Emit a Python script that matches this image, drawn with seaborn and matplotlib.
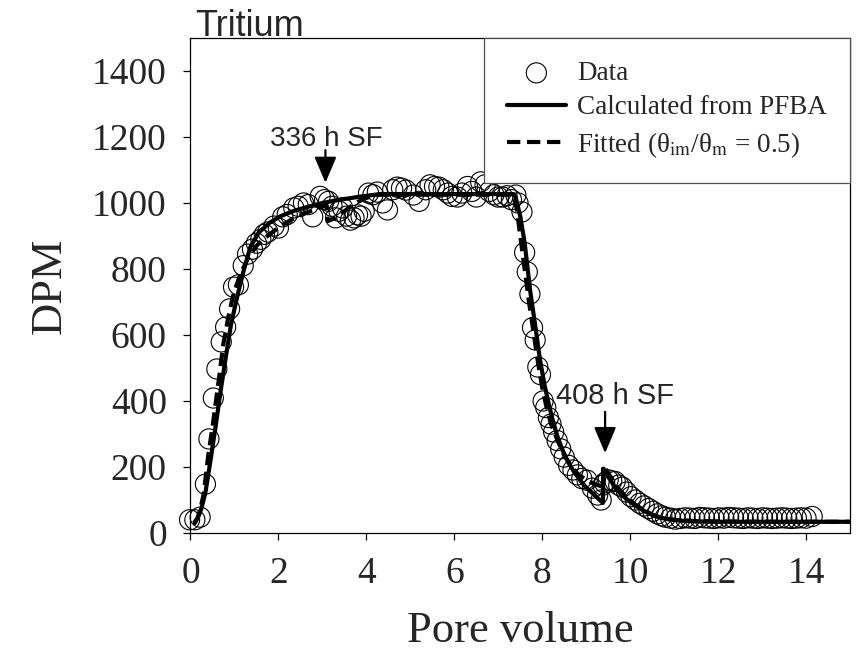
import matplotlib
matplotlib.use("Agg")
import matplotlib.pyplot as plt
import seaborn as sns
import pandas as pd

# ---------------- data ----------------
data_x = [-0.02, 0.1, 0.22, 0.34, 0.42, 0.52, 0.6, 0.7, 0.8, 0.89, 0.98, 1.09, 1.2, 1.3, 1.41,
          1.5, 1.6, 1.68, 1.76, 1.9, 2.0, 2.1, 2.2, 2.35, 2.45, 2.57, 2.68, 2.78, 2.95, 3.05,
          3.14, 3.22, 3.3, 3.38, 3.46, 3.55, 3.64, 3.72, 3.8, 3.88, 3.95, 4.05, 4.15, 4.25,
          4.37, 4.48, 4.6, 4.7, 4.8, 4.9, 5.07, 5.2, 5.35, 5.45, 5.55, 5.65, 5.75, 5.85, 5.95,
          6.07, 6.17, 6.3, 6.4, 6.5, 6.6, 6.7, 6.8, 6.9, 7.0, 7.1, 7.2, 7.3, 7.4,
          7.45, 7.54, 7.6, 7.66, 7.72, 7.78, 7.84, 7.9, 7.96, 8.02, 8.08, 8.14, 8.2, 8.26,
          8.34, 8.42, 8.5, 8.6, 8.7, 8.8, 8.9, 9.02, 9.14, 9.26, 9.34, 9.38, 9.42, 9.5, 9.58,
          9.66, 9.74, 9.82, 9.92, 10.02, 10.12, 10.22, 10.32, 10.42, 10.52, 10.62, 10.72,
          10.8, 10.92, 11.03, 11.14, 11.25, 11.36, 11.47, 11.58, 11.69, 11.8, 11.91, 12.02,
          12.13, 12.24, 12.35, 12.46, 12.57, 12.68, 12.79, 12.9, 13.01, 13.12, 13.23, 13.34,
          13.45, 13.56, 13.67, 13.78, 13.89, 14.0, 14.14]
data_y = [40, 40, 48, 148, 285, 409, 497, 579, 624, 679, 745, 752, 810, 845, 860,
          878, 890, 905, 912, 930, 924, 958, 965, 985, 990, 1000, 995, 958, 1020, 1010,
          1005, 990, 955, 975, 985, 960, 948, 955, 964, 960, 975, 1030, 1025, 1033,
          1000, 979, 1040, 1048, 1045, 1039, 1024, 1005, 1040, 1055, 1050, 1048, 1040, 1030, 1020,
          1018, 1030, 1050, 1035, 1018, 1064, 1055, 1035, 1025, 1018, 1018, 1022, 1010, 1024,
          1000, 973, 850, 791, 724, 622, 585, 503, 480, 400, 380, 350, 330, 306,
          280, 255, 230, 205, 191, 176, 165, 160, 136, 115, 100, 145, 152, 161, 158,
          156, 145, 139, 124, 110, 100, 90, 82, 74, 66, 58, 52,
          48, 45, 42, 44, 46, 45, 44, 47, 46, 45, 44, 46,
          45, 47, 46, 45, 44, 46, 45, 44, 46, 45, 44, 45,
          46, 45, 44, 45, 46, 45, 50]

calc_x = [0.1, 0.18, 0.25, 0.34, 0.45, 0.58, 0.68, 0.8, 0.92, 1.07, 1.2, 1.36, 1.55, 1.8,
          2.05, 2.35, 2.66, 3.0, 3.4, 3.9, 4.3, 7.35, 7.4, 7.5, 7.6, 7.73, 7.85, 7.95, 8.05,
          8.15, 8.25, 8.34, 8.45, 8.57, 8.7, 8.86, 9.0, 9.15, 9.38, 9.39, 9.55, 9.7, 9.9,
          10.1, 10.3, 10.5, 10.7, 10.9, 11.2, 11.6, 12.0, 13.0, 15.0]
calc_y = [30, 50, 75, 122, 215, 330, 425, 530, 630, 720, 790, 866, 910, 940,
          960, 976, 988, 1000, 1010, 1020, 1027, 1027, 1015, 960, 880, 730, 620, 525, 450,
          390, 336, 295, 255, 220, 190, 160, 138, 120, 91, 195, 160, 130, 105,
          85, 68, 55, 46, 41, 37, 35, 34, 34, 34]

fit_x = [0.08, 0.16, 0.22, 0.3, 0.4, 0.52, 0.64, 0.75, 0.87, 0.98, 1.14, 1.3, 1.5, 1.75,
         2.0, 2.3, 2.6, 2.9, 3.1, 3.12, 3.3, 3.5, 3.7, 3.9, 4.1, 4.3, 7.3, 7.35, 7.42, 7.5,
         7.6, 7.7, 7.8, 7.9, 8.0, 8.1, 8.2, 8.35, 8.5, 8.65, 8.8, 9.0, 9.2, 9.38, 9.39,
         9.55, 9.7, 9.9, 10.1, 10.3, 10.5, 10.7, 11.0, 11.5, 12.0, 13.0, 15.0]
fit_y = [30, 45, 70, 118, 230, 340, 460, 575, 660, 725, 786, 830, 870, 900,
         925, 950, 968, 985, 992, 945, 955, 975, 995, 1010, 1020, 1025, 1025, 1015, 985, 900,
         800, 700, 610, 520, 440, 380, 330, 280, 235, 205, 180, 160, 148, 140, 205,
         170, 140, 110, 88, 70, 56, 46, 40, 36, 35, 34, 34]

x_ticks = [0, 2, 4, 6, 8, 10, 12, 14]
y_ticks = [0, 200, 400, 600, 800, 1000, 1200, 1400]

df_data = pd.DataFrame({"x": data_x, "y": data_y})
df_calc = pd.DataFrame({"x": calc_x, "y": calc_y})
df_fit = pd.DataFrame({"x": fit_x, "y": fit_y})

# ---------------- style ----------------
sns.set_theme(style="ticks")
plt.rcParams["font.family"] = ["Liberation Serif", "DejaVu Serif"]
plt.rcParams["mathtext.fontset"] = "stix"

fig = plt.figure(figsize=(8.56, 6.66), dpi=100)
ax = fig.add_axes([0.2225, 0.1997, 0.7705, 0.7433])

sns.lineplot(data=df_calc, x="x", y="y", estimator=None, sort=False, color="black",
             lw=3.0, ax=ax, label="Calculated from PFBA", zorder=3)
sns.lineplot(data=df_fit, x="x", y="y", estimator=None, sort=False, color="black",
             lw=3.0, linestyle=(0, (3.2, 1.6)), ax=ax,
             label="Fitted (θ$_{\\mathrm{im}}$/θ$_{\\mathrm{m}}$ = 0.5)", zorder=3)
sns.scatterplot(data=df_data, x="x", y="y", marker="o", s=210, facecolor="none",
                edgecolor="black", linewidth=0.8, ax=ax, label="Data", zorder=4,
                clip_on=False)

ax.set_xlim(0, 15)
ax.set_ylim(0, 1500)
ax.set_xticks(x_ticks)
ax.set_yticks(y_ticks)
ax.tick_params(axis="both", direction="out", length=5, width=0.9, labelsize=27,
               color="black", pad=12)
for sp in ax.spines.values():
    sp.set_visible(True)
    sp.set_linewidth(0.9)
    sp.set_color("black")

ax.set_xlabel("Pore volume", fontsize=32, labelpad=14)
ax.set_ylabel("DPM", fontsize=32, labelpad=16)

# annotations
arrow_style = "-|>,head_length=0.8,head_width=0.34"
ax.annotate("", xy=(3.07, 1061), xytext=(3.07, 1160),
            arrowprops=dict(arrowstyle=arrow_style, color="black", lw=1.6,
                            mutation_scale=20, shrinkA=0, shrinkB=0))
ax.text(3.09, 1195, "336 h SF", ha="center", va="center",
        family="Liberation Sans", fontsize=20)
ax.annotate("", xy=(9.43, 242), xytext=(9.43, 367),
            arrowprops=dict(arrowstyle=arrow_style, color="black", lw=1.6,
                            mutation_scale=20, shrinkA=0, shrinkB=0))
ax.text(9.66, 416, "408 h SF", ha="center", va="center",
        family="Liberation Sans", fontsize=21)

fig.text(195 / 856, 1 - 36 / 666, "Tritium", ha="left", va="baseline",
         family="Liberation Sans", fontsize=26)

# legend
h, l = ax.get_legend_handles_labels()
order = [l.index("Data"), l.index("Calculated from PFBA"),
         [i for i, s in enumerate(l) if s.startswith("Fitted")][0]]
leg = ax.legend([h[i] for i in order], [l[i] for i in order], loc="upper right",
                bbox_to_anchor=(1.0, 1.0), borderaxespad=0, fontsize=19.5,
                frameon=True, fancybox=False, framealpha=1, edgecolor="0.3",
                handlelength=2.2, handletextpad=0.4, borderpad=0.85, labelspacing=0.35)
leg.get_frame().set_linewidth(0.9)

fig.savefig("out.png", dpi=100)
